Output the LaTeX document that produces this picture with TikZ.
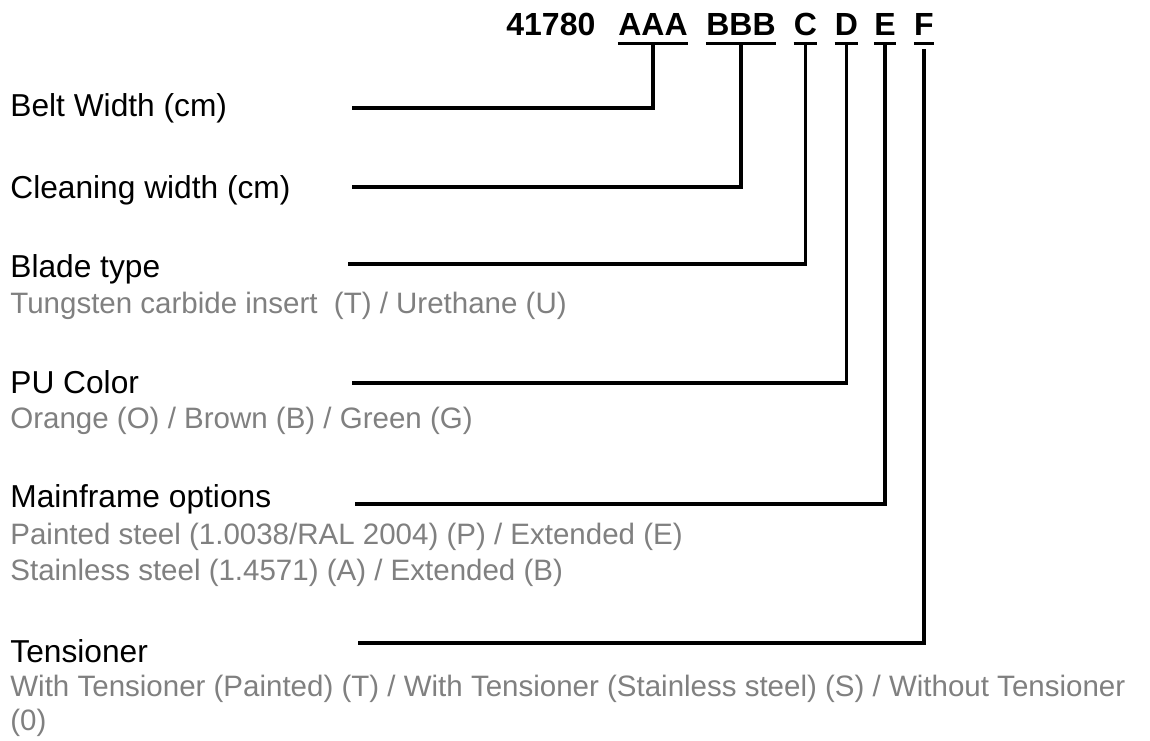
\documentclass[tikz,border=0pt]{standalone}
\usepackage{fontspec}
\setmainfont{Liberation Sans}
\usetikzlibrary{positioning}
\definecolor{optgray}{RGB}{128,128,128}

\begin{document}
\begin{tikzpicture}[
        x=0.5pt, y=-0.5pt,
        codepart/.style={inner sep=0pt, anchor=base, font=\fontsize{16}{19}\selectfont\bfseries},
        fieldname/.style={inner sep=0pt, anchor=base west, font=\fontsize{15.85}{19}\selectfont},
        fieldopt/.style={inner sep=0pt, anchor=base west, text=optgray, font=\fontsize{14.75}{17.75}\selectfont},
        uline/.style={line width=1.5pt},
        link/.style={line width=1.75pt}
    ]
        \useasboundingbox[fill=white] (0,0) rectangle (1150,740);

        % Order code
        \node[codepart, anchor=base west] (prefix) at (506,35) {41780};
        \node[codepart] (aaa) at (653,35) {AAA};
        \node[codepart] (bbb) at (741,35) {BBB};
        \node[codepart] (cc) at (805.5,35) {C};
        \node[codepart] (dd) at (846.5,35) {D};
        \node[codepart] (ee) at (885,35) {E};
        \node[codepart] (ff) at (924,35) {F};
        \foreach \part in {aaa,bbb,cc,dd,ee,ff}
            \draw[uline] ([yshift=-4pt]\part.base west) -- ([yshift=-4pt]\part.base east);

        % Fields
        \node[fieldname] (belt) at (10,116) {Belt Width (cm)};
        \node[fieldname] (clean) at (10,198) {Cleaning width (cm)};
        \node[fieldname] (blade) at (10,277) {Blade type};
        \node[fieldopt] (bladeopt) at (10,313) {Tungsten carbide insert \ (T) / Urethane (U)};
        \node[fieldname] (pu) at (10,393) {PU Color};
        \node[fieldopt] (puopt) at (10,428) {Orange (O) / Brown (B) / Green (G)};
        \node[fieldname] (frame) at (10,507) {Mainframe options};
        \node[fieldopt] (frameopt1) at (10,544) {Painted steel (1.0038/RAL 2004) (P) / Extended (E)};
        \node[fieldopt] (frameopt2) at (10,580) {Stainless steel (1.4571) (A) / Extended (B)};
        \node[fieldname] (tens) at (10,662) {Tensioner};
        \node[fieldopt] (tensopt1) at (10,696) {With Tensioner (Painted) (T) / With Tensioner (Stainless steel) (S) / Without Tensioner};
        \node[fieldopt] (tensopt2) at (10,730) {(0)};

        % Connectors
        \coordinate (beltend) at (352,108);
        \coordinate (cleanend) at (352,187);
        \coordinate (bladeend) at (348,264);
        \coordinate (puend) at (352,383);
        \coordinate (frameend) at (355,504);
        \coordinate (tensend) at (358,643);
        \draw[link] ([yshift=-4pt]aaa.base) |- (beltend);
        \draw[link] ([yshift=-4pt]bbb.base) |- (cleanend);
        \draw[link] ([yshift=-4pt]cc.base) |- (bladeend);
        \draw[link] ([yshift=-4pt]dd.base) |- (puend);
        \draw[link] ([yshift=-4pt]ee.base) |- (frameend);
        \draw[link] ([yshift=-7pt]ff.base) |- (tensend);
    \end{tikzpicture}
\end{document}
